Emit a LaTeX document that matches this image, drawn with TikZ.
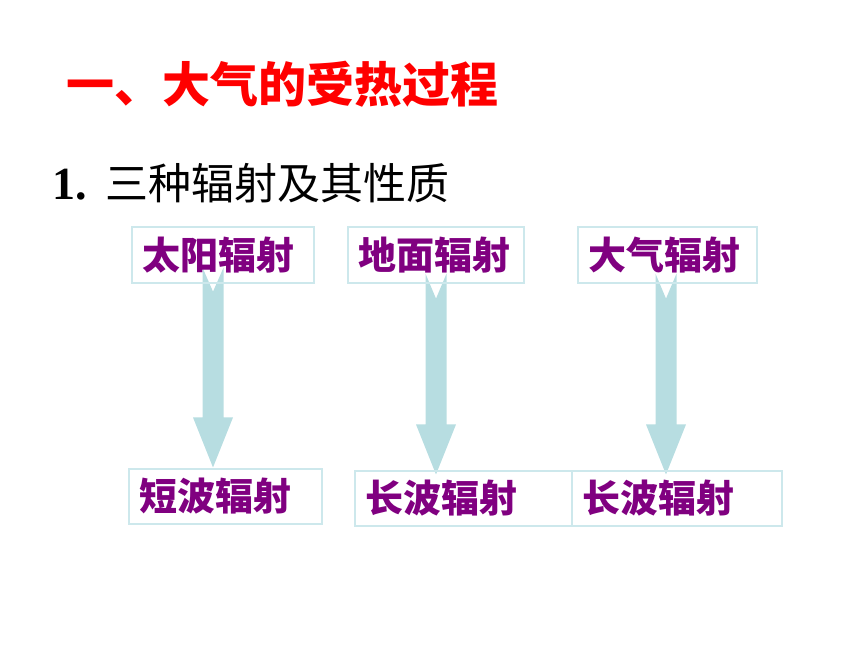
\documentclass[tikz,border=0pt]{standalone}
\usepackage{fontspec}
\setmainfont{Liberation Serif}
\newfontfamily\cjk{Noto Sans CJK SC}
\usetikzlibrary{calc}
\usetikzlibrary{backgrounds}
\definecolor{ColTitle}{RGB}{255,0,0}
\definecolor{ColText}{RGB}{128,0,128}
\definecolor{ColLine}{RGB}{205,232,236}
\definecolor{ColArrow}{RGB}{183,221,225}
\tikzstyle{RadBox}=[draw=ColLine,line width=1.2pt,inner xsep=10pt,inner ysep=0pt,
minimum height=55pt,align=left,text=ColText,font=\cjk\bfseries\fontsize{38}{40}\selectfont]
\tikzstyle{RadArrow}=[fill=ColArrow]

\begin{document}
\begin{tikzpicture}[x=1pt,y=-1pt]
        \useasboundingbox (0,0) rectangle (860,645);
        \node[anchor=west,inner sep=0pt,text=ColTitle,font=\cjk\bfseries\fontsize{48}{50}\selectfont](title)at(66,84){一、大气的受热过程};
        \node[anchor=west,inner sep=0pt,font=\fontsize{46}{48}\selectfont](sub)at(52,183){\textbf{1.}\hspace{19pt}{\cjk\fontsize{43}{45}\selectfont 三种辐射及其性质}};
        \node[RadBox,text width=162pt,minimum height=56pt](sun)at(223,255){太阳辐射};
        \node[RadBox,text width=156pt,minimum height=56pt](ground)at(436,255){地面辐射};
        \node[RadBox,text width=159pt,minimum height=56pt](air)at(667.5,255){大气辐射};
        \node[RadBox,text width=173pt](short)at(225.5,496.5){短波辐射};
        \node[RadBox,text width=197pt](long)at(463.5,498.5){长波辐射};
        \node[RadBox,text width=190pt](longair)at(677,498.5){长波辐射};
        \begin{scope}[on background layer]
        \fill[RadArrow] let \p1=([xshift=-10pt]sun.south), \p2=(short.north) in
            (\x1-10.5pt,\y1+16pt) -- (\x1,\y1-8pt) -- (\x1+10.5pt,\y1+16pt) -- (\x1+10.5pt,\y2+51pt)
            -- (\x1+20pt,\y2+51pt) -- (\x1,\y2+1pt) -- (\x1-20pt,\y2+51pt) -- (\x1-10.5pt,\y2+51pt) -- cycle;
        \fill[RadArrow] let \p1=(ground.south), \p2=(long.north) in
            (\x1-10.5pt,\y1+10pt) -- (\x1,\y1-15pt) -- (\x1+10.5pt,\y1+10pt) -- (\x1+10.5pt,\y2+46pt)
            -- (\x1+20pt,\y2+46pt) -- (\x1,\y2-4pt) -- (\x1-20pt,\y2+46pt) -- (\x1-10.5pt,\y2+46pt) -- cycle;
        \fill[RadArrow] let \p1=([xshift=-1.5pt]air.south), \p2=(longair.north) in
            (\x1-10.5pt,\y1+10pt) -- (\x1,\y1-15pt) -- (\x1+10.5pt,\y1+10pt) -- (\x1+10.5pt,\y2+46pt)
            -- (\x1+20pt,\y2+46pt) -- (\x1,\y2-4pt) -- (\x1-20pt,\y2+46pt) -- (\x1-10.5pt,\y2+46pt) -- cycle;
        \end{scope}
    \end{tikzpicture}
\end{document}
